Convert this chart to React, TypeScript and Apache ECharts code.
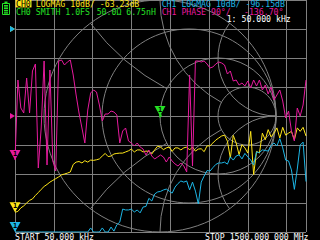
import React, { useEffect, useRef } from "react";
import * as echarts from "echarts";

// ---- sweep ----
const START_MHZ = 0.05;
const STOP_MHZ = 1500;
const POINT_COUNT = 101;
const sweepMHz: number[] = Array.from(
  { length: POINT_COUNT },
  (_, i) => START_MHZ + ((STOP_MHZ - START_MHZ) * i) / (POINT_COUNT - 1)
);

// ---- traces ----
const ch0LogMagDb = [
  -63.2, -62.9, -61.7, -61.0, -60.0, -59.1, -58.6, -57.4, -56.4, -55.3,
  -54.3, -53.6, -52.8, -52.2, -51.6, -51.0, -50.3, -50.0, -49.7, -49.3,
  -46.7, -45.9, -45.7, -46.2, -45.4, -45.9, -45.2, -45.3, -45.1, -44.8,
  -43.8, -42.9, -44.0, -43.8, -43.1, -42.9, -42.8, -42.8, -42.4, -42.0,
  -41.4, -42.4, -41.7, -41.7, -42.4, -42.1, -42.2, -43.1, -41.7, -40.4,
  -40.7, -41.6, -41.0, -40.7, -42.2, -41.0, -41.0, -41.7, -41.0, -40.7,
  -41.7, -40.7, -42.1, -41.4, -41.3, -42.3, -40.3, -40.3, -39.3, -38.3,
  -37.6, -36.9, -36.6, -38.7, -44.5, -36.7, -39.3, -43.3, -39.9, -41.0,
  -42.8, -35.3, -50.2, -42.2, -42.8, -35.9, -38.2, -34.7, -37.2, -35.9,
  -34.1, -37.6, -33.9, -36.6, -35.9, -35.3, -38.2, -34.1, -35.3, -33.9,
  -36.9,
];

const ch1LogMagDb = [
  -96.2, -93.0, -90.1, -88.4, -91.2, -86.5, -89.3, -85.1, -87.6, -84.2,
  -88.0, -83.4, -86.1, -82.5, -85.3, -81.2, -84.0, -80.3, -83.1, -79.4,
  -82.2, -78.3, -80.5, -76.1, -78.4, -74.2, -68.6, -75.3, -73.1, -76.0,
  -68.6, -74.4, -72.0, -68.3, -69.7, -67.5, -66.6, -62.1, -62.4, -62.4,
  -62.1, -63.1, -62.4, -63.4, -61.4, -61.2, -58.4, -59.3, -56.9, -56.2,
  -56.0, -55.5, -55.2, -55.9, -56.6, -54.5, -53.3, -52.4, -52.8, -52.4,
  -55.5, -52.8, -55.9, -60.3, -52.8, -50.7, -48.8, -49.0, -47.8, -46.7,
  -46.2, -46.2, -45.9, -46.6, -44.1, -45.2, -43.8, -43.4, -44.8, -42.9,
  -44.1, -45.2, -46.9, -42.4, -42.6, -41.7, -41.9, -42.1, -40.2, -39.3,
  -40.3, -37.8, -41.0, -45.2, -45.5, -48.6, -55.3, -48.3, -40.0, -39.0,
  -52.6,
];

const ch1PhaseDeg = [
  -136.7, 111.7, 24.8, 9.3, 117.9, 9.3, 139.7, 161.4, -161.4, -37.2,
  170.7, -152.1, 142.8, -139.7, -170.7, 170.7, 173.8, 158.3, 167.6, 173.8,
  127.2, 65.2, 9.3, -37.2, -83.8, 18.6, 71.4, 80.7, 74.5, 34.1,
  -15.5, 6.2, 6.2, 15.5, 12.4, 3.1, -83.8, -46.6, -37.2, -77.6,
  -83.8, -93.1, -83.8, -96.2, -102.4, -121.0, -105.5, -124.1, -133.4, -127.2,
  -121.0, -127.2, -142.8, -127.2, -139.7, -148.9, -155.2, -145.9, -155.2, -173.8,
  127.2, -155.2, 170.7, 170.7, 167.6, 170.7, 161.4, 149.0, 152.1, 161.4,
  167.6, 164.5, 158.3, 130.3, 139.7, 108.6, 111.7, 96.2, 102.4, 93.1,
  108.6, 86.9, 111.7, 93.1, 111.7, 80.7, 96.2, 68.3, 90.0, 49.7,
  65.2, 80.7, 46.6, -6.2, 15.5, -46.6, -77.6, 24.8, 0.0, 34.1,
  111.7,
];

// S11 on the Smith chart: all points sit right at the centre (|Γ| ~ 0.01)
const ch0SmithGamma: [number, number][] = [
  [0.0, 0.0], [0.004, 0.006], [-0.005, 0.008], [0.009, -0.004],
  [-0.007, -0.008], [0.012, 0.01], [0.006, -0.011],
];

// Smith grid: [centre re, centre im, radius, start deg, end deg] in Γ units
const smithArcs: number[][] = [
  [0, 0, 1, 0, 360],
  [1, 0.5, 0.5, 143.13, 270],
  [1, -0.5, 0.5, 90, 216.87],
  [0.75, 0, 0.25, 0, 360],
  [1, 1, 1, 180, 241.93],
  [1, -1, 1, 118.07, 180],
  [0.5, 0, 0.5, 0, 360],
  [1, 2, 2, 216.87, 241.93],
  [1, -2, 2, 118.07, 143.13],
  [0.25, 0, 0.75, 0, 360],
];

// scale settings
const FREQ_GRID_MHZ = 200;
const DB_PER_DIV = 10;
const DEG_PER_DIV = 90;
const REF_DB = 0;
const REF_DEG = 0;

// ---- style ----
const GRAY = "#808080";
const YELLOW = "#ffe619";
const CYAN = "#1db6e6";
const MAGENTA = "#e61a9e";
const GREEN = "#25e025";
const WHITE = "#ffffff";
const FONT = "DejaVu Sans Mono";
const FS = 8.2;
const CW = 4.93;

const PLOT = { left: 15, top: 0, width: 291, height: 232 };
const R = PLOT.height / 2;
const SMITH_CX = PLOT.left + Math.floor(PLOT.width / 2);

const markerSym = "path://M0,0L11,0L5.5,10Z";
const refSym = "path://M0,0L5,3L0,6Z";

function markerPoint(coord: number[], color: string) {
  return {
    coord,
    symbol: markerSym,
    symbolSize: [11, 10],
    symbolOffset: [0, -5],
    itemStyle: { color },
    label: {
      show: true,
      formatter: "1",
      color: "#000",
      fontSize: 7,
      fontFamily: FONT,
      fontWeight: "bold",
      position: "inside",
      offset: [0, -1.5],
    },
  };
}

function refPoint(coord: number[], color: string) {
  return {
    coord,
    symbol: refSym,
    symbolSize: [5, 6],
    symbolOffset: [-2.5, 0],
    itemStyle: { color },
    label: { show: false },
  };
}

function txt(text: string, x: number, y: number, color: string) {
  return {
    type: "text",
    silent: true,
    z: 100,
    style: {
      text,
      x,
      y,
      fill: color,
      fontSize: FS,
      lineHeight: 7,
      fontFamily: FONT,
      verticalAlign: "top",
      align: "left",
    },
  };
}

export default function App() {
  const ref = useRef<HTMLDivElement>(null);

  useEffect(() => {
    if (!ref.current) return;
    const chart = echarts.init(ref.current, undefined, { renderer: "svg" });

    const hiddenAxis = {
      axisLine: { show: false },
      axisTick: { show: false },
      axisLabel: { show: false },
    };
    const yellowData = sweepMHz.map((f, i) => [f, ch0LogMagDb[i]]);
    const dbMin = REF_DB - 7 * DB_PER_DIV;
    const dbMax = REF_DB + 1 * DB_PER_DIV;
    const cyanData = sweepMHz.map((f, i) => [f, Math.max(dbMin, Math.min(dbMax, ch1LogMagDb[i]))]);
    const magentaData = sweepMHz.map((f, i) => [f, ch1PhaseDeg[i]]);

    const option: any = {
      animation: false,
      backgroundColor: "#000",
      grid: [
        { ...PLOT, show: false },
        { left: SMITH_CX - R, top: PLOT.top, width: 2 * R, height: 2 * R, show: false },
      ],
      xAxis: [
        {
          type: "value",
          gridIndex: 0,
          min: 0,
          max: STOP_MHZ,
          interval: FREQ_GRID_MHZ,
          ...hiddenAxis,
          splitLine: { show: true, lineStyle: { color: GRAY, width: 1 } },
        },
        { type: "value", gridIndex: 1, min: -1, max: 1, show: false },
      ],
      yAxis: [
        {
          type: "value",
          gridIndex: 0,
          min: dbMin,
          max: dbMax,
          interval: DB_PER_DIV,
          ...hiddenAxis,
          splitLine: { show: true, lineStyle: { color: GRAY, width: 1 } },
        },
        {
          type: "value",
          gridIndex: 0,
          min: REF_DEG - 4 * DEG_PER_DIV,
          max: REF_DEG + 4 * DEG_PER_DIV,
          show: false,
        },
        { type: "value", gridIndex: 1, min: -1, max: 1, show: false },
      ],
      series: [
        {
          type: "custom",
          xAxisIndex: 1,
          yAxisIndex: 2,
          silent: true,
          z: 1,
          data: smithArcs,
          renderItem: (params: any, api: any) => {
            const [cu, cv, r, a0, a1] = smithArcs[params.dataIndex];
            const c = api.coord([cu, cv]);
            const rp = api.size([r, 0])[0];
            if (a1 - a0 >= 360) {
              return {
                type: "circle",
                shape: { cx: c[0], cy: c[1], r: rp },
                style: { fill: "none", stroke: GRAY, lineWidth: 1 },
              };
            }
            return {
              type: "arc",
              shape: {
                cx: c[0],
                cy: c[1],
                r: rp,
                startAngle: (-a1 * Math.PI) / 180,
                endAngle: (-a0 * Math.PI) / 180,
                clockwise: true,
              },
              style: { fill: "none", stroke: GRAY, lineWidth: 1 },
            };
          },
        },
        {
          type: "line",
          name: "CH0 LOGMAG",
          xAxisIndex: 0,
          yAxisIndex: 0,
          data: yellowData,
          showSymbol: false,
          z: 3,
          lineStyle: { color: YELLOW, width: 1 },
          markPoint: {
            z: 10,
            data: [refPoint([0, REF_DB], YELLOW), markerPoint(yellowData[0], YELLOW)],
          },
        },
        {
          type: "line",
          name: "CH0 SMITH",
          xAxisIndex: 1,
          yAxisIndex: 2,
          data: ch0SmithGamma,
          showSymbol: false,
          z: 4,
          lineStyle: { color: GREEN, width: 1 },
          markPoint: { z: 10, data: [markerPoint(ch0SmithGamma[0], GREEN)] },
        },
        {
          type: "line",
          name: "CH1 LOGMAG",
          xAxisIndex: 0,
          yAxisIndex: 0,
          data: cyanData,
          showSymbol: false,
          z: 5,
          lineStyle: { color: CYAN, width: 1 },
          markPoint: {
            z: 10,
            data: [refPoint([0, REF_DB], CYAN), markerPoint(cyanData[0], CYAN)],
          },
        },
        {
          type: "line",
          name: "CH1 PHASE",
          xAxisIndex: 0,
          yAxisIndex: 1,
          data: magentaData,
          showSymbol: false,
          z: 6,
          lineStyle: { color: MAGENTA, width: 1 },
          markPoint: {
            z: 10,
            data: [refPoint([0, REF_DEG], MAGENTA), markerPoint(magentaData[0], MAGENTA)],
          },
        },
      ],
      graphic: [
        // battery
        { type: "rect", silent: true, z: 100, shape: { x: 4.5, y: 1.5, width: 3, height: 2 }, style: { fill: GREEN } },
        { type: "rect", silent: true, z: 100, shape: { x: 2.5, y: 3.5, width: 7, height: 11 }, style: { fill: "none", stroke: GREEN, lineWidth: 1 } },
        { type: "rect", silent: true, z: 100, shape: { x: 4, y: 5, width: 4, height: 1.6 }, style: { fill: GREEN } },
        { type: "rect", silent: true, z: 100, shape: { x: 4, y: 7.4, width: 4, height: 1.6 }, style: { fill: GREEN } },
        { type: "rect", silent: true, z: 100, shape: { x: 4, y: 9.8, width: 4, height: 1.6 }, style: { fill: GREEN } },
        { type: "rect", silent: true, z: 100, shape: { x: 4, y: 12.2, width: 4, height: 1.4 }, style: { fill: GREEN } },
        // header
        { type: "rect", silent: true, z: 99, shape: { x: 15.5, y: 0, width: 16, height: 7.4 }, style: { fill: YELLOW } },
        txt("CH0", 16, 0.3, "#000"),
        txt("LOGMAG 10dB/ -63.23dB", 16 + 4 * CW, 0.3, YELLOW),
        txt("CH0 SMITH 1.0FS", 16, 8, GREEN),
        txt("50.0Ω 6.75nH", 96.7, 8, GREEN),
        txt("CH1 LOGMAG 10dB/ -96.15dB", 161.7, 0.3, CYAN),
        txt("CH1 PHASE 90°/", 161.7, 8, MAGENTA),
        txt("-136.70°", 244, 8, MAGENTA),
        txt("1: 50.000 kHz", 226.7, 15, WHITE),
        // footer
        txt("START 50.000 kHz", 15, 233, WHITE),
        txt("STOP 1500.000 000 MHz", 205, 233, WHITE),
      ],
    };

    chart.setOption(option);
    return () => chart.dispose();
  }, []);

  return (
    <div
      ref={ref}
      style={{ position: "fixed", left: 0, top: 0, width: 320, height: 240, background: "#000" }}
    />
  );
}
